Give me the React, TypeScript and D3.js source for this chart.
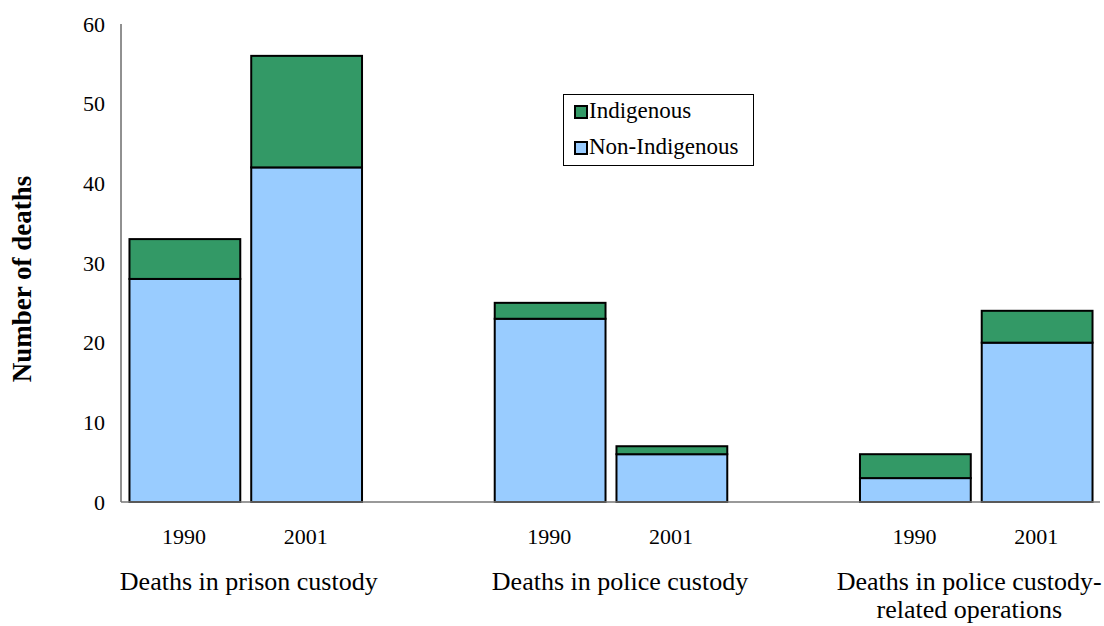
import React from "react";
import * as d3 from "d3";

const groups = ["Deaths in prison custody", "Deaths in police custody", "Deaths in police custody-|related operations"];
const years = ["1990", "2001"];
const nonIndigenous = [28, 42, 23, 6, 3, 20];
const indigenous = [5, 14, 2, 1, 3, 4];
const yTicks = [0, 10, 20, 30, 40, 50, 60];
const seriesNames = ["Indigenous", "Non-Indigenous"];
const colors = ["#339966", "#99CCFF"];

const W = 1104, H = 626;

export default function App() {
  const slots: string[] = [];
  groups.forEach((g, gi) => {
    years.forEach((y) => slots.push(`${gi}-${y}`));
    if (gi < groups.length - 1) slots.push(`gap${gi}`);
  });
  const x = d3.scaleBand<string>().domain(slots).range([124, 1098]).paddingInner(0.09).paddingOuter(0.045);
  const y = d3.scaleLinear().domain([0, 60]).range([502, 24]);

  const bars = groups.flatMap((g, gi) =>
    years.map((yr, yi) => {
      const i = gi * 2 + yi;
      return { key: `${gi}-${yr}`, yr, non: nonIndigenous[i], ind: indigenous[i] };
    })
  );
  const font = "'Liberation Serif', 'Times New Roman', serif";
  const labelShift = [3, 9, -7];

  return (
    <svg width={W} height={H} style={{ position: "absolute", left: 0, top: 0, background: "#fff" }} fontFamily={font}>
      <rect x={0} y={0} width={W} height={H} fill="#fff" />
      <line x1={121} x2={121} y1={y(60)} y2={y(0)} stroke="#222" strokeWidth={1} />
      {yTicks.map((t) => (
        <text key={t} x={105} y={y(t)} dy="0.35em" textAnchor="end" fontSize={22} fill="#000">{t}</text>
      ))}
      <text transform={`translate(31,279) rotate(-90)`} textAnchor="middle" fontSize={27} fontWeight="bold" fill="#000">Number of deaths</text>
      {bars.map((b) => {
        const bx = x(b.key)!;
        const bw = x.bandwidth();
        return (
          <g key={b.key}>
            <rect x={bx} y={y(b.non)} width={bw} height={y(0) - y(b.non)} fill={colors[1]} stroke="#000" strokeWidth={2} />
            <rect x={bx} y={y(b.non + b.ind)} width={bw} height={y(b.non) - y(b.non + b.ind)} fill={colors[0]} stroke="#000" strokeWidth={2} />
            <text x={bx + bw / 2 - 1} y={544} textAnchor="middle" fontSize={22} fill="#000">{b.yr}</text>
          </g>
        );
      })}
      <line x1={121} x2={1100} y1={y(0)} y2={y(0)} stroke="#777" strokeWidth={1.5} />
      {groups.map((g, gi) => {
        const a = x(`${gi}-1990`)!;
        const b = x(`${gi}-2001`)! + x.bandwidth();
        const cx = (a + b) / 2 + labelShift[gi];
        const lines = g.split("|");
        return (
          <text key={g} x={cx} y={590} textAnchor="middle" fontSize={26} fill="#000">
            {lines.map((l, li) => (
              <tspan key={li} x={cx} dy={li === 0 ? 0 : 28}>{l}</tspan>
            ))}
          </text>
        );
      })}
      <rect x={563.5} y={94.5} width={190} height={71} fill="#fff" stroke="#000" strokeWidth={1} />
      {seriesNames.map((s, i) => (
        <g key={s}>
          <rect x={575} y={106 + i * 36} width={12} height={12} fill={colors[i]} stroke="#000" strokeWidth={2} />
          <text x={589} y={118 + i * 36} fontSize={23} fill="#000">{s}</text>
        </g>
      ))}
    </svg>
  );
}
